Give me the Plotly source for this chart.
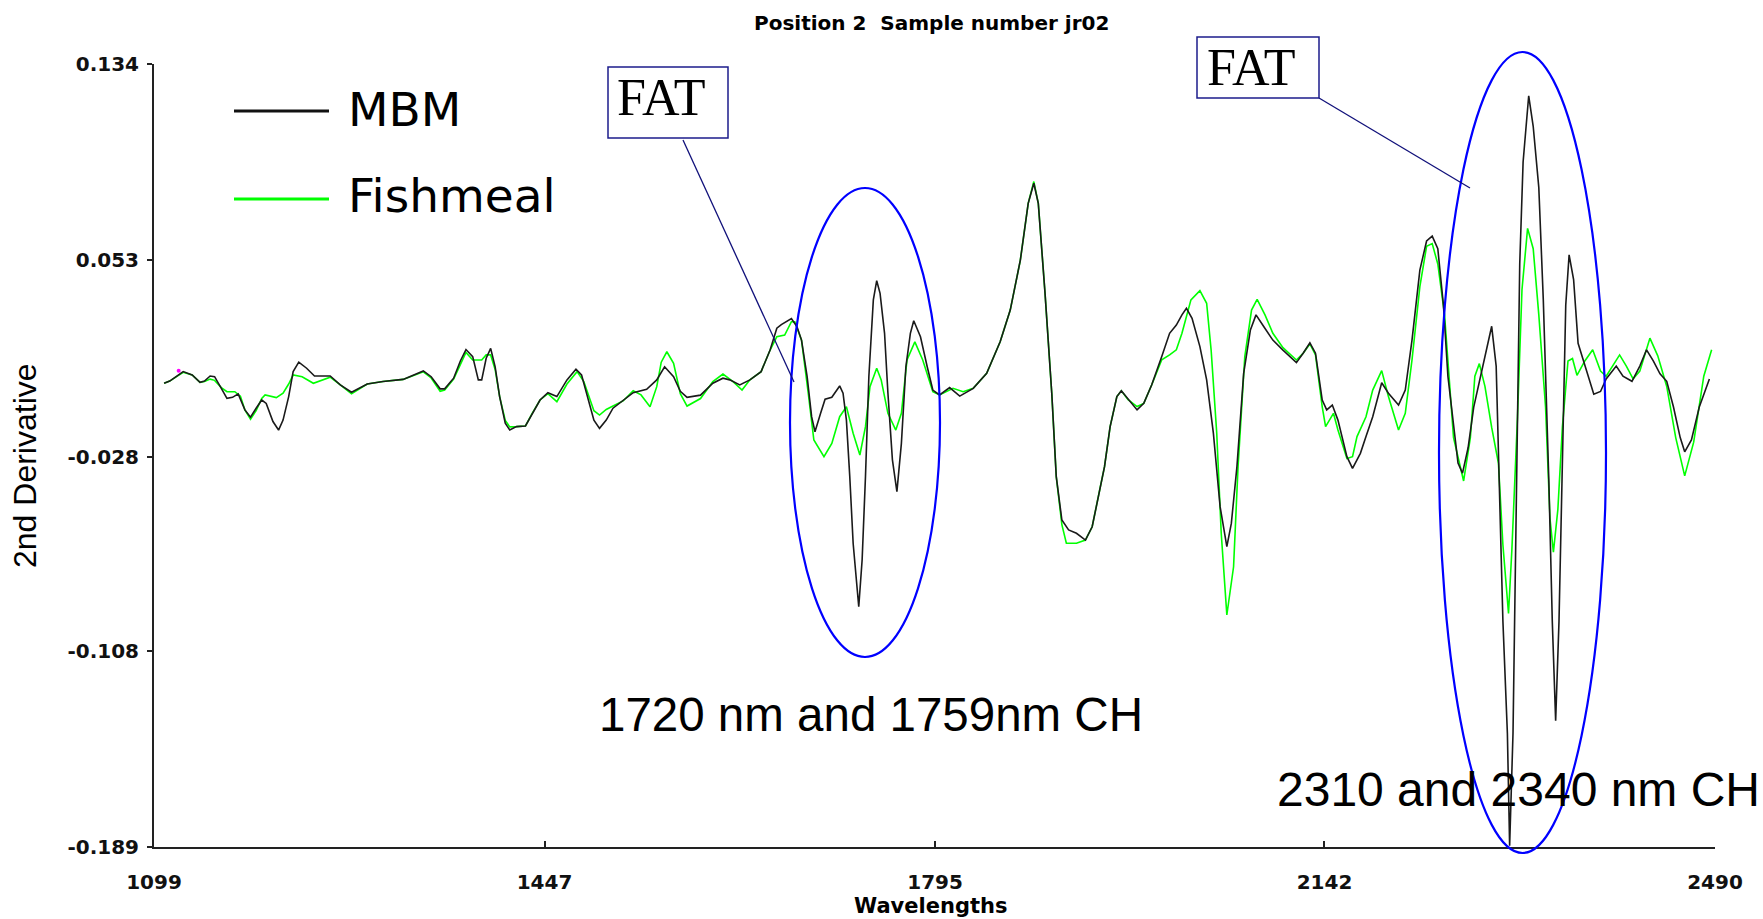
import plotly.graph_objects as go

# ---------------- data ----------------
mbm_wl = [1108, 1113, 1125, 1133, 1140, 1144, 1149, 1153, 1159, 1164, 1169, 1174, 1180, 1185, 1190, 1195,
          1199, 1205, 1210, 1214, 1219, 1223, 1228, 1235, 1242, 1256, 1265, 1275, 1289, 1303, 1321, 1339,
          1346, 1354, 1358, 1366, 1372, 1377, 1383, 1388, 1391, 1395, 1399, 1403, 1407, 1412, 1416, 1422,
          1430, 1436, 1443, 1450, 1458, 1467, 1475, 1480, 1486, 1491, 1496, 1502, 1508, 1517, 1526, 1538,
          1547, 1554, 1562, 1568, 1574, 1586, 1597, 1606, 1612, 1621, 1630, 1640, 1648, 1654, 1658, 1667,
          1672, 1676, 1681, 1685, 1688, 1693, 1697, 1703, 1710, 1713, 1716, 1719, 1722, 1727, 1730, 1733,
          1736, 1740, 1743, 1746, 1750, 1753, 1757, 1761, 1765, 1769, 1773, 1776, 1782, 1788, 1793, 1799,
          1808, 1817, 1829, 1841, 1853, 1862, 1871, 1878, 1883, 1887, 1893, 1899, 1903, 1908, 1914, 1921,
          1929, 1935, 1942, 1946, 1951, 1957, 1961, 1967, 1975, 1981, 1988, 1997, 2004, 2010, 2015, 2019,
          2024, 2031, 2037, 2043, 2049, 2055, 2059, 2064, 2070, 2076, 2081, 2088, 2096, 2105, 2117, 2123,
          2129, 2134, 2140, 2144, 2149, 2154, 2162, 2167, 2174, 2179, 2185, 2193, 2199, 2208, 2214, 2220,
          2227, 2233, 2238, 2243, 2248, 2252, 2257, 2261, 2265, 2270, 2275, 2279, 2285, 2291, 2295, 2298,
          2301, 2305, 2307, 2310, 2313, 2316, 2319, 2324, 2328, 2333, 2337, 2342, 2345, 2348, 2351, 2354,
          2357, 2360, 2364, 2368, 2374, 2382, 2388, 2393, 2402, 2408, 2416, 2423, 2429, 2435, 2441, 2447,
          2453, 2459, 2463, 2469, 2476, 2485]
mbm_val = [0.0023, 0.0032, 0.0071, 0.0057, 0.0027, 0.0032, 0.0053, 0.0050, 0.0002, -0.0039, -0.0035, -0.0021,
           -0.0087, -0.0117, -0.0080, -0.0046, -0.0060, -0.0135, -0.0170, -0.0129, -0.0032, 0.0071, 0.0110,
           0.0085, 0.0053, 0.0053, 0.0016, -0.0014, 0.0020, 0.0030, 0.0039, 0.0074, 0.0050, 0.0000, 0.0000,
           0.0044, 0.0115, 0.0162, 0.0133, 0.0037, 0.0037, 0.0126, 0.0167, 0.0091, -0.0032, -0.0142, -0.0170,
           -0.0156, -0.0153, -0.0101, -0.0046, -0.0016, -0.0032, 0.0037, 0.0081, 0.0057, -0.0046, -0.0129,
           -0.0163, -0.0129, -0.0080, -0.0046, -0.0016, -0.0002, 0.0037, 0.0091, 0.0050, -0.0010, -0.0035,
           -0.0026, 0.0023, 0.0044, 0.0037, 0.0016, 0.0037, 0.0071, 0.0160, 0.0250, 0.0265, 0.0290, 0.0256,
           0.0201, 0.0050, -0.0115, -0.0177, -0.0101, -0.0043, -0.0035, 0.0012, -0.0018, -0.0129, -0.0362,
           -0.0637, -0.0899, -0.0706, -0.0362, 0.0050, 0.0367, 0.0446, 0.0394, 0.0229, -0.0018, -0.0293,
           -0.0424, -0.0225, 0.0091, 0.0229, 0.0281, 0.0215, 0.0091, -0.0005, -0.0025, 0.0005, -0.0030,
           0.0002, 0.0064, 0.0194, 0.0325, 0.0531, 0.0765, 0.0848, 0.0765, 0.0394, -0.0018, -0.0362, -0.0541,
           -0.0582, -0.0596, -0.0624, -0.0569, -0.0410, -0.0321, -0.0156, -0.0032, -0.0008, -0.0043, -0.0087,
           -0.0060, 0.0016, 0.0133, 0.0229, 0.0263, 0.0305, 0.0332, 0.0291, 0.0174, 0.0037, -0.0183, -0.0486,
           -0.0651, -0.0555, -0.0321, 0.0064, 0.0243, 0.0305, 0.0256, 0.0201, 0.0160, 0.0108, 0.0147, 0.0190,
           0.0147, -0.0046, -0.0087, -0.0067, -0.0129, -0.0280, -0.0328, -0.0266, -0.0197, -0.0115, 0.0025,
           -0.0018, -0.0067, -0.0005, 0.0201, 0.0490, 0.0610, 0.0630, 0.0578, 0.0346, 0.0052, -0.0159,
           -0.0306, -0.0348, -0.0243, -0.0075, 0.0010, 0.0136, 0.0258, 0.0094, -0.0454, -0.0958, -0.1422,
           -0.1885, -0.1422, -0.0537, 0.0515, 0.0936, 0.1209, 0.1083, 0.0830, 0.0367, -0.0390, -0.0958,
           -0.1369, -0.0958, -0.0327, 0.0346, 0.0553, 0.0451, 0.0188, 0.0094, -0.0022, -0.0011, 0.0041,
           0.0094, 0.0052, 0.0031, 0.0094, 0.0161, 0.0115, 0.0062, 0.0031, -0.0075, -0.0201, -0.0260,
           -0.0211, -0.0075, 0.0041]

fish_wl = [1108, 1113, 1125, 1133, 1140, 1144, 1149, 1153, 1159, 1164, 1171, 1176, 1180, 1185, 1190, 1195,
           1198, 1203, 1208, 1214, 1219, 1223, 1231, 1241, 1256, 1265, 1275, 1289, 1303, 1321, 1339, 1346,
           1354, 1358, 1366, 1373, 1377, 1383, 1391, 1395, 1399, 1403, 1407, 1412, 1416, 1422, 1430, 1436,
           1443, 1450, 1458, 1467, 1476, 1482, 1486, 1491, 1496, 1502, 1508, 1517, 1526, 1533, 1541, 1547,
           1551, 1556, 1562, 1568, 1574, 1586, 1597, 1606, 1615, 1623, 1630, 1640, 1648, 1654, 1661, 1667,
           1670, 1676, 1682, 1687, 1696, 1703, 1710, 1716, 1722, 1728, 1733, 1737, 1743, 1747, 1753, 1760,
           1765, 1770, 1777, 1784, 1793, 1799, 1811, 1820, 1829, 1841, 1853, 1862, 1871, 1878, 1883, 1887,
           1893, 1899, 1903, 1908, 1912, 1921, 1929, 1935, 1942, 1946, 1951, 1957, 1961, 1967, 1975, 1981,
           1988, 1997, 2004, 2010, 2015, 2023, 2031, 2037, 2041, 2046, 2050, 2055, 2061, 2065, 2071, 2077,
           2082, 2089, 2096, 2105, 2117, 2123, 2129, 2134, 2140, 2143, 2150, 2154, 2162, 2167, 2171, 2179,
           2185, 2193, 2199, 2208, 2214, 2220, 2227, 2233, 2238, 2243, 2249, 2257, 2266, 2272, 2276, 2280,
           2285, 2291, 2297, 2301, 2306, 2309, 2314, 2318, 2323, 2328, 2333, 2339, 2343, 2346, 2350, 2354,
           2359, 2363, 2367, 2374, 2381, 2388, 2393, 2405, 2411, 2417, 2423, 2432, 2439, 2447, 2455, 2463,
           2471, 2480, 2487]
fish_val = [0.0023, 0.0032, 0.0068, 0.0057, 0.0027, 0.0030, 0.0040, 0.0035, 0.0005, -0.0012, -0.0012, -0.0030,
            -0.0087, -0.0125, -0.0090, -0.0040, -0.0025, -0.0030, -0.0036, -0.0018, 0.0020, 0.0057, 0.0050,
            0.0023, 0.0048, 0.0016, -0.0020, 0.0020, 0.0030, 0.0039, 0.0070, 0.0045, -0.0010, -0.0005, 0.0040,
            0.0110, 0.0150, 0.0119, 0.0119, 0.0140, 0.0140, 0.0080, -0.0032, -0.0130, -0.0157, -0.0156,
            -0.0153, -0.0101, -0.0046, -0.0020, -0.0053, 0.0020, 0.0071, 0.0030, -0.0020, -0.0090, -0.0108,
            -0.0085, -0.0071, -0.0050, -0.0008, -0.0025, -0.0074, 0.0009, 0.0110, 0.0153, 0.0105, -0.0020,
            -0.0071, -0.0040, 0.0030, 0.0061, 0.0030, -0.0005, 0.0037, 0.0071, 0.0160, 0.0215, 0.0222, 0.0277,
            0.0277, 0.0201, -0.0018, -0.0211, -0.0280, -0.0225, -0.0115, -0.0074, -0.0183, -0.0273, -0.0156,
            0.0009, 0.0085, 0.0037, -0.0101, -0.0170, -0.0101, 0.0119, 0.0194, 0.0119, -0.0012, -0.0025,
            0.0002, -0.0012, 0.0002, 0.0064, 0.0194, 0.0325, 0.0531, 0.0765, 0.0855, 0.0765, 0.0394, -0.0018,
            -0.0362, -0.0560, -0.0637, -0.0637, -0.0624, -0.0569, -0.0410, -0.0321, -0.0156, -0.0032, -0.0008,
            -0.0045, -0.0073, -0.0060, 0.0016, 0.0120, 0.0140, 0.0161, 0.0229, 0.0367, 0.0405, 0.0353, 0.0160,
            -0.0183, -0.0596, -0.0933, -0.0734, -0.0321, 0.0133, 0.0325, 0.0369, 0.0305, 0.0229, 0.0170,
            0.0119, 0.0147, 0.0185, 0.0140, -0.0074, -0.0156, -0.0101, -0.0170, -0.0287, -0.0280, -0.0197,
            -0.0115, -0.0005, 0.0075, -0.0032, -0.0170, -0.0101, 0.0119, 0.0422, 0.0588, 0.0599, 0.0515,
            0.0305, -0.0201, -0.0380, -0.0201, 0.0052, 0.0104, 0.0010, -0.0159, -0.0306, -0.0643, -0.0927,
            -0.0664, -0.0117, 0.0409, 0.0662, 0.0578, 0.0305, -0.0075, -0.0537, -0.0674, -0.0496, -0.0159,
            0.0115, 0.0125, 0.0056, 0.0115, 0.0161, 0.0073, 0.0052, 0.0140, 0.0094, 0.0041, 0.0073, 0.0209,
            0.0136, 0.0010, -0.0201, -0.0359, -0.0220, 0.0052, 0.0161]

marker_wl = [1121]
marker_val = [0.0075]

x_ticks = [1099, 1447, 1795, 2142, 2490]
y_ticks = [0.134, 0.053, -0.028, -0.108, -0.189]
y_tick_text = ["0.134", "0.053", "-0.028", "-0.108", "-0.189"]

# ---------------- layout geometry ----------------
W, H = 1763, 919
L, R, T, B = 154, 48, 64, 72
PW, PH = W - L - R, H - T - B


def px(x):
    return (x - L) / PW


def py(y):
    return (H - B - y) / PH


fig = go.Figure()
fig.add_trace(go.Scatter(x=fish_wl, y=fish_val, mode="lines", name="Fishmeal",
                         line=dict(color="#00ff00", width=1.6), showlegend=False))
fig.add_trace(go.Scatter(x=mbm_wl, y=mbm_val, mode="lines", name="MBM",
                         line=dict(color="#1a1a1a", width=1.6), showlegend=False))
fig.add_trace(go.Scatter(x=marker_wl, y=marker_val, mode="markers",
                         marker=dict(color="#ff00ff", size=4), showlegend=False))

tickfont = dict(family="DejaVu Sans", size=20, color="#111111", weight="bold")

fig.update_xaxes(range=[1099, 2490], tickvals=x_ticks, ticktext=[str(v) for v in x_ticks],
                 ticks="inside", ticklen=6, tickwidth=1.5, tickcolor="#222222",
                 showline=True, linecolor="#222222", linewidth=2, showgrid=False, zeroline=False,
                 tickfont=tickfont, ticklabelstandoff=16)
fig.update_yaxes(range=[-0.189, 0.134], tickvals=y_ticks, ticktext=y_tick_text,
                 ticks="outside", ticklen=5, tickwidth=1.5, tickcolor="#222222",
                 showline=True, linecolor="#222222", linewidth=2, showgrid=False, zeroline=False,
                 tickfont=tickfont, ticklabelstandoff=4)

shapes = []
# ellipses
shapes.append(dict(type="circle", xref="paper", yref="paper", x0=px(790), x1=px(940), y0=py(657), y1=py(188),
                   line=dict(color="#0000ff", width=2.2)))
shapes.append(dict(type="circle", xref="paper", yref="paper", x0=px(1439), x1=px(1606), y0=py(853), y1=py(52),
                   line=dict(color="#0000ff", width=2.2)))
# FAT boxes
shapes.append(dict(type="rect", xref="paper", yref="paper", x0=px(608), x1=px(728), y0=py(138), y1=py(67),
                   line=dict(color="#1c1c8c", width=1.5), fillcolor="white"))
shapes.append(dict(type="rect", xref="paper", yref="paper", x0=px(1197), x1=px(1319), y0=py(98), y1=py(37),
                   line=dict(color="#1c1c8c", width=1.5), fillcolor="white"))
# leader lines
shapes.append(dict(type="line", xref="paper", yref="paper", x0=px(683), y0=py(140), x1=px(794), y1=py(382),
                   line=dict(color="#10107a", width=1.3)))
shapes.append(dict(type="line", xref="paper", yref="paper", x0=px(1319), y0=py(98), x1=px(1470), y1=py(188),
                   line=dict(color="#10107a", width=1.3)))
# legend lines
shapes.append(dict(type="line", xref="paper", yref="paper", x0=px(234), x1=px(329), y0=py(111), y1=py(111),
                   line=dict(color="#111111", width=3)))
shapes.append(dict(type="line", xref="paper", yref="paper", x0=px(234), x1=px(329), y0=py(199), y1=py(199),
                   line=dict(color="#00ff00", width=3)))

ann = []


def text(x, y, s, size, family, xanchor="left", weight="normal", angle=0):
    ann.append(dict(x=px(x), y=py(y), xref="paper", yref="paper", text=s, showarrow=False,
                    xanchor=xanchor, yanchor="middle", textangle=angle,
                    font=dict(family=family, size=size, color="black", weight=weight)))


text(346, 110, "MBM", 47, "DejaVu Sans")
text(346, 196, "Fishmeal", 47, "DejaVu Sans")
text(661, 98, "FAT", 52, "Liberation Serif", xanchor="center")
text(1251, 67, "FAT", 52, "Liberation Serif", xanchor="center")
text(597, 714, "1720 nm and 1759nm CH", 47.5, "Liberation Sans")
text(1275, 789, "2310 and 2340 nm CH", 48, "Liberation Sans")
text(25, 466, "2nd Derivative", 32, "Liberation Sans", xanchor="center", angle=-90)
text(930, 906, "Wavelengths", 21, "DejaVu Sans", xanchor="center", weight="bold")
text(931, 23, "Position 2&nbsp; Sample number jr02", 20, "DejaVu Sans", xanchor="center", weight="bold")

fig.update_layout(width=W, height=H, margin=dict(l=L, r=R, t=T, b=B, autoexpand=False),
                  paper_bgcolor="white", plot_bgcolor="white", shapes=shapes, annotations=ann,
                  showlegend=False)

fig.write_html("out.html")
